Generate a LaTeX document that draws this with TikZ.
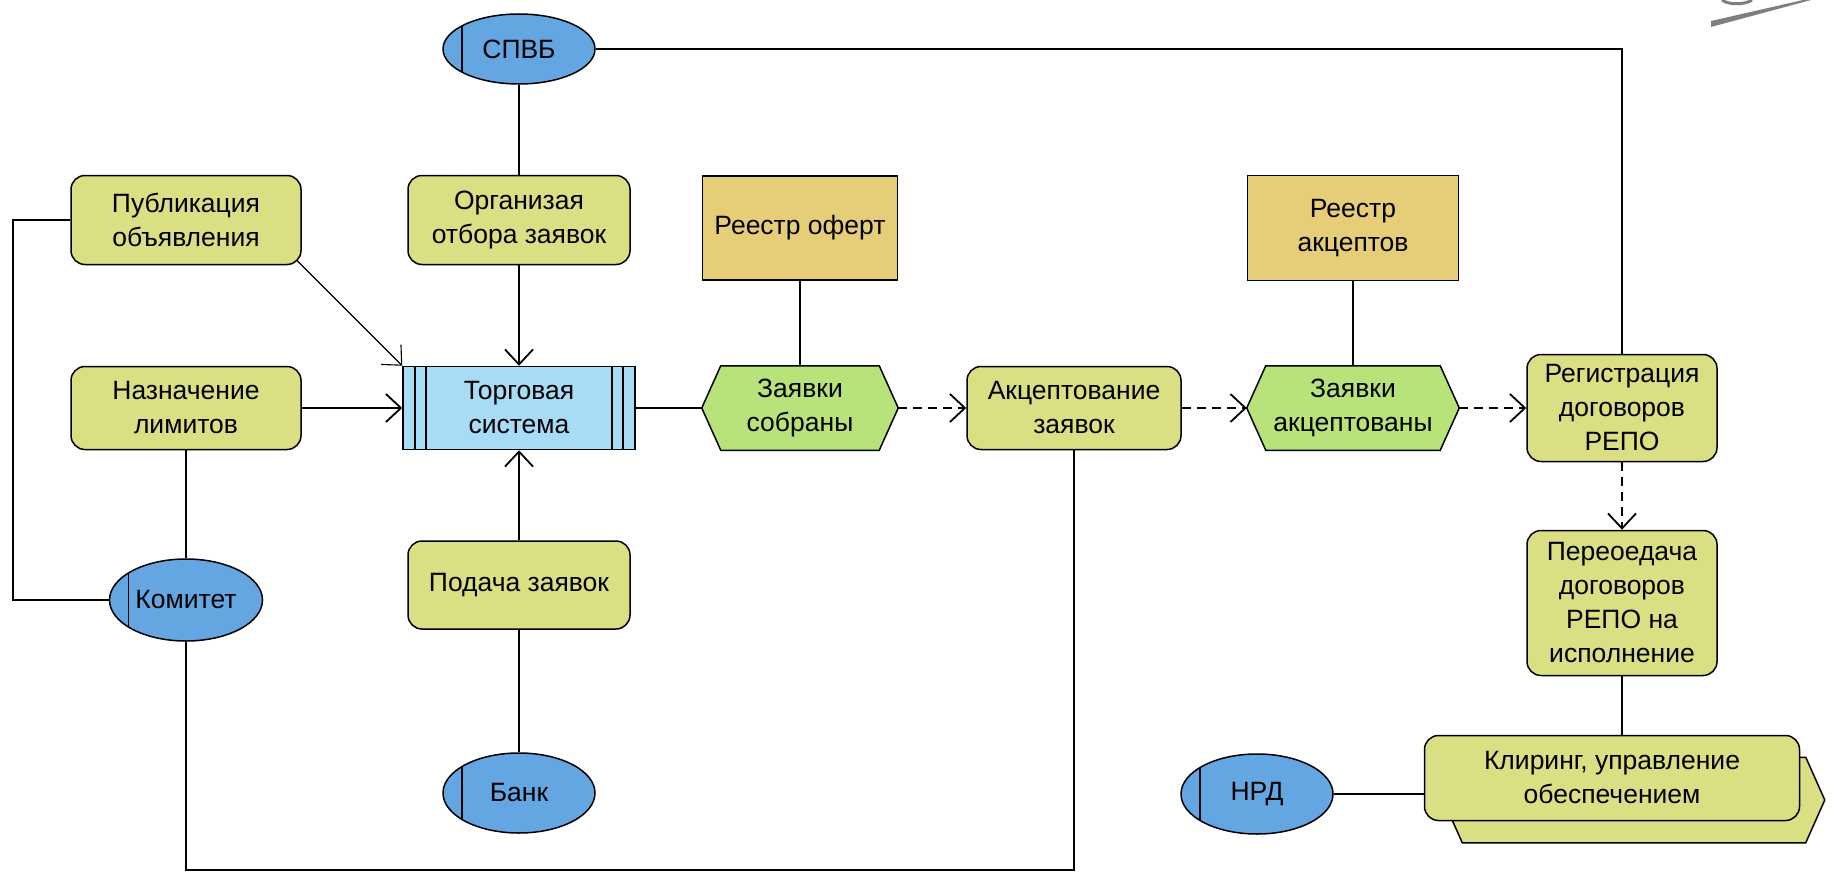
\documentclass[tikz,border=0pt]{standalone}
\usepackage{fontspec}
\setmainfont{Liberation Sans}
\usetikzlibrary{arrows.meta,shapes.geometric}
\pgfdeclarelayer{bg}
\pgfsetlayers{bg,main}
\definecolor{funcfill}{HTML}{DADF84}
\definecolor{evfill}{HTML}{B8E27A}
\definecolor{orgfill}{HTML}{64A6E2}
\definecolor{sysfill}{HTML}{A8DCF5}
\definecolor{regfill}{HTML}{E6CE78}
\definecolor{markgrey}{HTML}{7F7F7F}
\tikzset{
  base/.style={font=\fontsize{26.5}{34}\selectfont, align=center, inner sep=0pt, line width=1.5pt, draw=black},
  func/.style={base, rectangle, rounded corners=14pt, fill=funcfill},
  regbox/.style={base, rectangle, fill=regfill},
  evt/.style={base, rectangle, draw=none},
  evshape/.style={fill=evfill, draw=black, line width=1.5pt},
  ifshape/.style={evshape, fill=funcfill},
  orgunit/.style={base, ellipse, fill=orgfill, minimum width=152pt, minimum height=70pt,
    path picture={\draw[line width=1.8pt] ([xshift=19pt]path picture bounding box.north west) -- ([xshift=19pt]path picture bounding box.south west);}},
  sys/.style={base, rectangle, fill=sysfill,
    path picture={\draw[line width=1.5pt]
      ([xshift=12pt]path picture bounding box.north west) -- ([xshift=12pt]path picture bounding box.south west)
      ([xshift=23pt]path picture bounding box.north west) -- ([xshift=23pt]path picture bounding box.south west)
      ([xshift=-12pt]path picture bounding box.north east) -- ([xshift=-12pt]path picture bounding box.south east)
      ([xshift=-23pt]path picture bounding box.north east) -- ([xshift=-23pt]path picture bounding box.south east);}},
  conn/.style={line width=1.8pt},
  arr/.style={conn, -{Straight Barb[length=15pt,width=28pt]}},
  thinarr/.style={line width=1.1pt, -{Straight Barb[length=15pt,width=28pt]}},
  darr/.style={arr, dash pattern=on 9pt off 6pt}
}
\newcommand\evhex[2]{\draw[#2] (#1.west) -- ([xshift=19pt]#1.north west) -- ([xshift=-19pt]#1.north east) -- (#1.east) -- ([xshift=-19pt]#1.south east) -- ([xshift=19pt]#1.south west) -- cycle;}
\begin{document}
\begin{tikzpicture}[x=1pt,y=-1pt]
\useasboundingbox (0,0) rectangle (1839,875);

% grey mark top right
\fill[markgrey] (1711,21) -- (1803,0) -- (1811,0) -- (1711,27) -- cycle;
\draw[markgrey, line width=3pt] (1722,0) .. controls (1728,5) and (1745,5) .. (1752,0);

\node[orgunit] (spvb) at (519,49) {СПВБ};
\node[func, minimum width=230pt, minimum height=89pt] (pub) at (186,220) {Публикация\\объявления};
\node[func, minimum width=222pt, minimum height=89pt] (orgsel) at (519,220) {Организая\\отбора заявок};
\node[regbox, minimum width=195pt, minimum height=104pt] (roff) at (800,228) {Реестр оферт};
\node[regbox, minimum width=211pt, minimum height=105pt] (racc) at (1353,228) {Реестр\\акцептов};
\node[func, minimum width=230pt, minimum height=83pt] (naz) at (186,408) {Назначение\\лимитов};
\node[sys, minimum width=232pt, minimum height=83pt] (ts) at (519,408) {Торговая\\система};
\node[evt, minimum width=195pt, minimum height=83pt] (zs) at (800,408) {Заявки\\собраны};
\node[func, minimum width=214pt, minimum height=83pt] (akc) at (1074,408) {Акцептование\\заявок};
\node[evt, minimum width=211pt, minimum height=83pt] (za) at (1353,408) {Заявки\\акцептованы};
\node[func, minimum width=190pt, minimum height=107pt] (rg) at (1622,408) {Регистрация\\договоров\\РЕПО};
\node[func, minimum width=190pt, minimum height=145pt] (per) at (1622,603) {Переоедача\\договоров\\РЕПО на\\исполнение};
\node[orgunit, minimum width=153pt, minimum height=82pt] (kom) at (186,600) {Комитет};
\node[func, minimum width=222pt, minimum height=88pt] (pod) at (519,585) {Подача заявок};
\node[orgunit, minimum height=80pt] (bank) at (519,793) {Банк};
\node[orgunit, minimum height=80pt] (nrd) at (1257,794) {НРД};
\node[evt, minimum width=380pt, minimum height=84pt] (klirback) at (1634,800) {};
\node[func, minimum width=375pt, minimum height=85pt] (klir) at (1612,778) {Клиринг, управление\\обеспечением};

\begin{pgfonlayer}{bg}
\fill[white] (0,0) rectangle (1839,875);
\evhex{zs}{evshape}
\evhex{za}{evshape}
\evhex{klirback}{ifshape}
\end{pgfonlayer}

\coordinate (lft) at (13,0);
\coordinate (bot) at (0,870);

\draw[conn] (spvb.east) -| (rg.north);
\draw[conn] (spvb.south) -- (orgsel.north);
\draw[arr] (orgsel.south) -- (ts.north);
\draw[thinarr] ([shift={(-5pt,5pt)}]pub.south east) -- (ts.north west);
\draw[arr] (naz.east) -- (ts.west);
\draw[arr] (pod.north) -- (ts.south);
\draw[conn] (pod.south) -- (bank.north);
\draw[conn] (ts.east) -- (zs.west);
\draw[conn] (roff.south) -- (zs.north);
\draw[darr] (zs.east) -- (akc.west);
\draw[darr] (akc.east) -- (za.west);
\draw[conn] (racc.south) -- (za.north);
\draw[darr] (za.east) -- (rg.west);
\draw[darr] (rg.south) -- (per.north);
\draw[conn] (per.south) -- (per.south |- klir.north);
\draw[conn] (nrd.east) -- (nrd.east -| klir.west);
\draw[conn] (pub.west) -- (pub.west -| lft) -- (lft |- kom.west) -- (kom.west);
\draw[conn] (naz.south) -- (kom.north);
\draw[conn] (kom.south) -- (kom.south |- bot) -| (akc.south);
\end{tikzpicture}
\end{document}
